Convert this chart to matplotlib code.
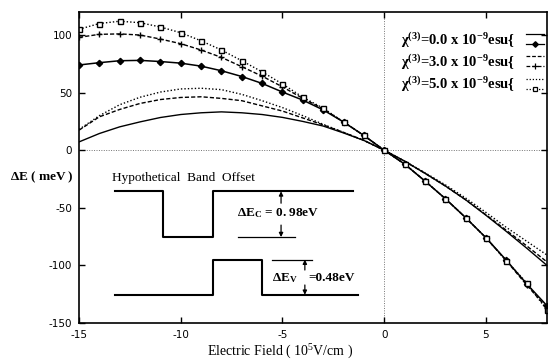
import matplotlib
matplotlib.use("Agg")
import matplotlib.pyplot as plt
import numpy as np

plt.rcParams['axes.unicode_minus'] = False
plt.rcParams['mathtext.fontset'] = 'custom'
plt.rcParams['mathtext.default'] = 'regular'
plt.rcParams['mathtext.rm'] = 'Liberation Serif'

# Datos
field = list(range(-15, 9))  # 10^5 V/cm

# curvas con marcadores
de_chi0_mark = [74, 76, 77.7, 78, 77, 75.6, 73, 69, 64, 58, 50.5, 43.5, 35, 24.5, 12.8,
                0, -12, -26.7, -42, -58.5, -76, -95.5, -116, -135]
de_chi3_mark = [98, 100.6, 101, 100, 96.5, 92.5, 87, 80.6, 72.5, 64.3, 55, 45, 36, 24.5, 12.8,
                0, -12, -26.7, -42, -58.5, -76, -96, -117, -137]
de_chi5_mark = [105, 110, 112, 110.7, 107, 102, 95, 87, 77.7, 68, 57.5, 46, 36.5, 24.6, 12.8,
                0, -12, -26.7, -42, -58.5, -76, -96, -115, -139]

# curvas sin marcadores
de_chi0_line = [7.2, 14.5, 20.3, 24.6, 28.4, 31, 32.5, 33.3, 32.5, 31, 28.5, 25, 21, 15, 8.5,
                0, -9.5, -20, -31, -43, -56.5, -70.5, -85, -100]
de_chi3_line = [17.4, 29, 35.4, 40.6, 44, 45.8, 46.4, 45, 43, 38.5, 34, 28, 22, 15.5, 8.6,
                0, -9.5, -20, -31, -43, -56, -69.5, -83, -97]
de_chi5_line = [18, 30, 39.5, 46, 50.5, 53.2, 53.8, 52.6, 48.5, 43, 37, 30, 22.5, 15.5, 8.5,
                0, -9.3, -19.5, -30, -41.5, -54, -67, -79, -91]

# diagrama de bandas (inset)
cb_x = [-13.25, -10.85, -10.85, -8.4, -8.4, -1.55]
cb_y = [-35.7, -35.7, -75.4, -75.4, -35.7, -35.7]
vb_x = [-13.25, -8.4, -8.4, -6.0, -6.0, -1.3]
vb_y = [-125.5, -125.5, -95, -95, -125.5, -125.5]

chi_labels = ['0.0', '3.0', '5.0']

fig = plt.figure(figsize=(5.48, 3.6), dpi=100)
ax = fig.add_axes([79/548, 1 - 323/360, 468/548, 311/360])

ax.axhline(0, color='0.45', lw=0.7, ls=(0, (1, 1.5)), zorder=1)
ax.axvline(0, color='0.45', lw=0.7, ls=(0, (1, 1.5)), zorder=1)

ax.plot(field, de_chi0_line, color='k', lw=1.0, ls='-')
ax.plot(field, de_chi3_line, color='k', lw=1.0, ls=(0, (3, 1.5)))
ax.plot(field, de_chi5_line, color='k', lw=1.0, ls=(0, (1, 1.5)))

ax.plot(field, de_chi0_mark, color='k', lw=1.1, ls='-', marker='D', ms=3.2,
        mfc='k', mec='k')
ax.plot(field, de_chi3_mark, color='k', lw=1.0, ls=(0, (3, 1.5)), marker='+', ms=5,
        mew=1.0)
ax.plot(field, de_chi5_mark, color='k', lw=1.0, ls=(0, (1, 1.5)), marker='s', ms=3.6,
        mfc='white', mec='k', mew=1.0)

# inset de bandas
ax.plot(cb_x, cb_y, color='k', lw=1.5)
ax.plot(vb_x, vb_y, color='k', lw=1.5)
ax.plot([-7.2, -4.4], [-75.4, -75.4], color='k', lw=0.9)
ax.plot([-5.5, -3.55], [-95, -95], color='k', lw=0.9)

arrow = dict(arrowstyle='-|>', color='k', lw=0.9, mutation_scale=6, shrinkA=0, shrinkB=0)
ax.annotate('', xy=(-5.07, -35.7), xytext=(-5.07, -46), arrowprops=arrow)
ax.annotate('', xy=(-5.07, -75.4), xytext=(-5.07, -65), arrowprops=arrow)
ax.annotate('', xy=(-3.9, -95), xytext=(-3.9, -104), arrowprops=arrow)
ax.annotate('', xy=(-3.9, -125.5), xytext=(-3.9, -117), arrowprops=arrow)

serif = 'Liberation Serif'
ax.text(-13.4, -24.5, 'Hypothetical  Band  Offset', family=serif, fontsize=9.5,
        va='center', ha='left')
ax.text(-7.25, -55, r'$\Delta E_C$ = 0. 98eV', family=serif, fontsize=9.5,
        fontweight='bold', va='center', ha='left')
ax.text(-5.5, -111, r'$\Delta E_V$', family=serif, fontsize=9.5,
        fontweight='bold', va='center', ha='left')
ax.text(-3.75, -111, '=0.48eV', family=serif, fontsize=9.5,
        fontweight='bold', va='center', ha='left')

# leyenda manual
rows_y = [0.91, 0.839, 0.768]
styles = ['-', (0, (3, 1.5)), (0, (1, 1.5))]
markers = [dict(marker='D', ms=2.8, mfc='k', mec='k'),
           dict(marker='+', ms=4.5, mew=0.9),
           dict(marker='s', ms=3.2, mfc='white', mec='k', mew=0.9)]
for lab, yy, st, mk in zip(chi_labels, rows_y, styles, markers):
    ax.text(0.687, yy, r'$\chi^{(3)}$=' + lab + r' x 10$^{-9}$esu{',
            transform=ax.transAxes, family=serif, fontsize=10.5, fontweight='bold',
            va='center', ha='left')
    ax.plot([0.955, 0.994], [yy + 0.018, yy + 0.018], transform=ax.transAxes,
            color='k', lw=0.9, ls=st, clip_on=False)
    ax.plot([0.955, 0.994], [yy - 0.014, yy - 0.014], transform=ax.transAxes,
            color='k', lw=0.9, ls=st, clip_on=False)
    ax.plot([0.9745], [yy - 0.014], transform=ax.transAxes, color='k', ls='none',
            clip_on=False, **mk)

ax.set_xlim(-15, 8)
ax.set_ylim(-150, 120)
ax.set_xticks([-15, -10, -5, 0, 5])
ax.set_yticks([-150, -100, -50, 0, 50, 100])
ax.tick_params(direction='in', length=4, width=1.0, top=True, right=True,
               labelsize=7.5, pad=5)
for s in ax.spines.values():
    s.set_linewidth(1.2)

ax.set_xlabel(r'Electric Field ( 10$^5$V/cm )', family=serif, fontsize=10)
ax.xaxis.set_label_coords(0.43, -0.065)
ax.set_ylabel(r'$\Delta$E ( meV )', family=serif, fontsize=9.5, fontweight='bold',
              rotation=0, va='center', ha='center')
ax.yaxis.set_label_coords(-0.079, 0.47)

fig.savefig('out.png', dpi=100)
